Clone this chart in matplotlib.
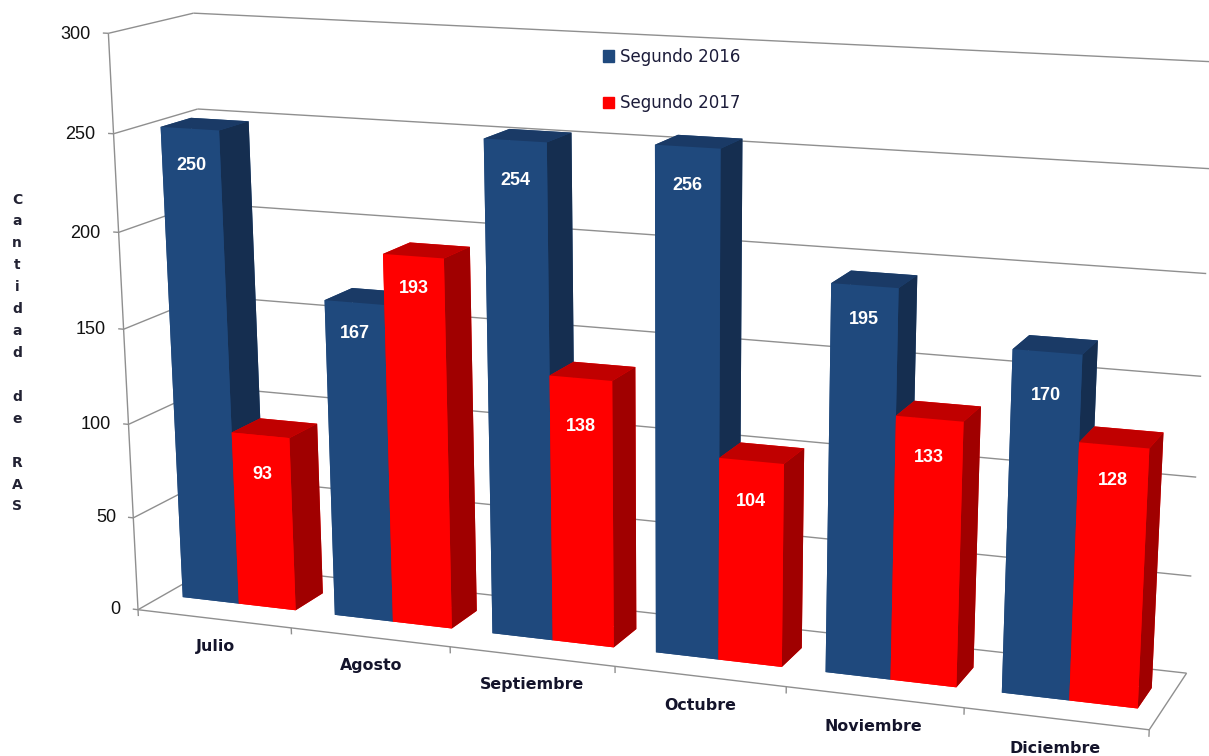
import numpy as np
import matplotlib
matplotlib.use("Agg")
import matplotlib.pyplot as plt
from matplotlib.patches import Patch
from mpl_toolkits.mplot3d import proj3d
from mpl_toolkits.mplot3d.art3d import Line3DCollection

categories = ["Julio", "Agosto", "Septiembre", "Octubre", "Noviembre", "Diciembre"]
segundo_2016 = [250, 167, 254, 256, 195, 170]
segundo_2017 = [93, 193, 138, 104, 133, 128]
y_ticks = [0, 50, 100, 150, 200, 250, 300]
legend_labels = ["Segundo 2016", "Segundo 2017"]
y_title = "Cantidad de RAS"

# how far below each bar's top its value label sits (in axis units)
label_drop_2016 = [19, 16, 19.5, 18.5, 16.5, 21]
label_drop_2017 = [21, 16.5, 24.5, 20.5, 19, 17]

W, H = 1209, 756
# perspective camera: (category, depth, value) -> image pixels
CAMERA = np.array([[1.480316491e+02, 8.986371915e+01, -1.176630671e-01, 1.380176707e+02],
                   [6.992960829e+00, -1.848731172e+01, -1.927104915e+00, 6.097052996e+02],
                   [-1.784198061e-02, 4.763906279e-02, -1.741524939e-04, 1.000000000e+00]])
bar_gap, bar_w, depth0, depth1 = 0.1262749, 0.37291936, 0.31589939, 0.68064895

fig = plt.figure(figsize=(W / 100, H / 100), dpi=100, facecolor="white")
ax = fig.add_axes([0, -(W - H) / 2 / H, 1, W / H], projection="3d")
ax.set_axis_off()
ax.computed_zorder = False
ax.viewLim.set_points(np.array([[0.0, 0.0], [1.0, 1.0]]))
to_view = np.array([[1 / W, 0, 0], [0, -1 / W, (H + (W - H) / 2) / W], [0, 0, 1]])
M3 = to_view @ CAMERA
w_mid = CAMERA[2] @ np.array([3, .5, 150, 1])
M = np.vstack([M3[0], M3[1], CAMERA[2] - np.array([0, 0, 0, w_mid]), CAMERA[2]])
ax.get_proj = lambda: M
ax.set_xlim(0, 6)
ax.set_ylim(0, 1)
ax.set_zlim(0, 300)


def label(x, y, z, s, **kw):
    px, py, _ = proj3d.proj_transform(x, y, z, M)
    ax.text2D(float(px), float(py), s, transform=ax.transData, **kw)


GRID = "#8f8f8f"
segments = []
for v in y_ticks:
    segments.append([(0, 1, v), (6, 1, v)])
    segments.append([(0, 0, v), (0, 1, v)])
    segments.append([(-.035, 0, v), (0, 0, v)])
    label(-.115, 0, v - 1, str(v), ha="right", va="center", fontsize=13,
          family="Liberation Sans", color="#111111", zorder=40)
segments.append([(0, 0, 0), (0, 0, y_ticks[-1])])
segments.append([(0, 0, 0), (len(categories), 0, 0)])
segments.append([(len(categories), 0, 0), (len(categories), 1, 0)])
for i in range(len(categories) + 1):
    segments.append([(i, 0, 0), (i, 0, -3.5)])
for i, c in enumerate(categories):
    label(i + .5, 0, -15, c, ha="center", va="center", fontsize=11.4, family="DejaVu Sans",
          fontweight="bold", color="#14142b", zorder=40)
ax.add_collection3d(Line3DCollection(segments, colors=GRID, linewidths=1.0, zorder=1))

cols = [("#1F497D", "#1A3A66", "#152E50"), ("#FF0000", "#C00000", "#A00000")]
drops = [label_drop_2016, label_drop_2017]
for i in range(len(categories)):
    for s, val in enumerate((segundo_2016[i], segundo_2017[i])):
        f, t, d = cols[s]
        x = i + bar_gap + s * bar_w
        ax.bar3d([x], [depth0], [0], [bar_w], [depth1 - depth0], [val],
                 color=[f, t, f, f, f, d], shade=False, zorder=10 + 2 * i + s)
        label(x + bar_w / 2, depth0, val - drops[s][i], str(val), color="white", fontweight="bold",
              fontsize=13, family="Liberation Sans", ha="center", va="center", zorder=50)

fig.legend(handles=[Patch(color=cols[0][0]), Patch(color=cols[1][0])], labels=legend_labels, frameon=False,
           loc="upper left", bbox_to_anchor=(603 / W, 1 - 48 / H), bbox_transform=fig.transFigure,
           borderpad=0, borderaxespad=0, prop=dict(family="DejaVu Sans", size=12),
           handlelength=.68, handleheight=.68, handletextpad=.35, labelspacing=1.69, labelcolor="#1c1c3a")
fig.text(17 / W, 1 - 353 / H, "\n".join(y_title), ha="center", va="center", ma="center", fontsize=10,
         family="DejaVu Sans", fontweight="bold", linespacing=1.72, color="#222233")
fig.savefig("out.png", dpi=100)
